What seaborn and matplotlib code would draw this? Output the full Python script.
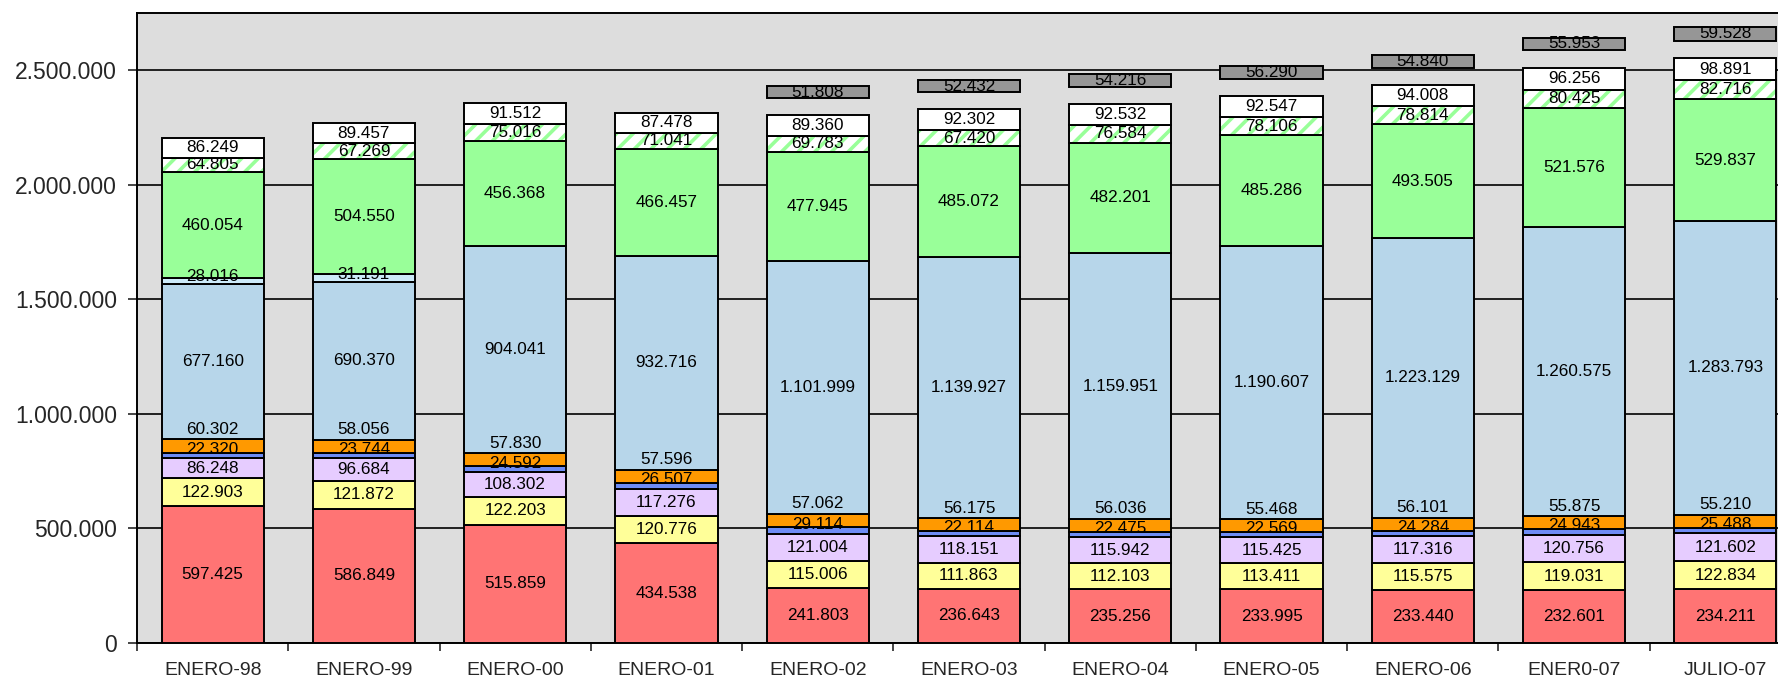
import numpy as np
import pandas as pd
import matplotlib
matplotlib.use('Agg')
import matplotlib.pyplot as plt
import seaborn as sns

# Datos
categorias = ['ENERO-98', 'ENERO-99', 'ENERO-00', 'ENERO-01', 'ENERO-02', 'ENERO-03',
              'ENERO-04', 'ENERO-05', 'ENERO-06', 'ENER0-07', 'JULIO-07']

rojo = [597425, 586849, 515859, 434538, 241803, 236643, 235256, 233995, 233440, 232601, 234211]
amarillo = [122903, 121872, 122203, 120776, 115006, 111863, 112103, 113411, 115575, 119031, 122834]
lila = [86248, 96684, 108302, 117276, 121004, 118151, 115942, 115425, 117316, 120756, 121602]
azul = [22320, 23744, 24592, 26507, 29114, 22114, 22475, 22569, 24284, 24943, 25488]
naranja = [60302, 58056, 57830, 57596, 57062, 56175, 56036, 55468, 56101, 55875, 55210]
celeste = [677160, 690370, 904041, 932716, 1101999, 1139927, 1159951, 1190607, 1223129, 1260575, 1283793]
palido = [28016, 31191, 0, 0, 0, 0, 0, 0, 0, 0, 0]
verde = [460054, 504550, 456368, 466457, 477945, 485072, 482201, 485286, 493505, 521576, 529837]
rayado = [64805, 67269, 75016, 71041, 69783, 67420, 76584, 78106, 78814, 80425, 82716]
blanco = [86249, 89457, 91512, 87478, 89360, 92302, 92532, 92547, 94008, 96256, 98891]
hueco = [0, 0, 0, 0, 75000, 75000, 75000, 75000, 75000, 75000, 75000]
gris = [0, 0, 0, 0, 51808, 52432, 54216, 56290, 54840, 55953, 59528]

sns.set_style('white')
plt.rcParams['font.family'] = ['Liberation Sans', 'DejaVu Sans']
plt.rcParams['hatch.linewidth'] = 2.6

ANCHO = 0.675
LW = 1.4

fig = plt.figure(figsize=(17.78, 6.83), dpi=100)
ax = fig.add_axes([137 / 1778, 40 / 683, 1664 / 1778, 630 / 683])
ax.set_facecolor('#DDDDDD')


def fmt(v):
    return f'{v:,}'.replace(',', '.')


def barras(valores, base, color, **kws):
    df = pd.DataFrame({'cat': categorias, 'v': valores, 'b': base})
    df = df[df['v'] > 0]
    sns.barplot(data=df, x='cat', y='v', order=categorias, bottom=df['b'].values,
                color=color, saturation=1, width=ANCHO, errorbar=None, ax=ax,
                zorder=3, **kws)


# (valores, color, desplazamiento de la etiqueta, referencia)
capas = [
    (rojo, '#FF7474', 0, 'centro'),
    (amarillo, '#FFFF99', 0, 'centro'),
    (lila, '#E6CCFF', 0, 'centro'),
    (azul, '#6E8CF5', 6, 'centro'),
    (naranja, '#FF9900', 10, 'arriba'),
    (celeste, '#B7D6EA', 0, 'centro'),
    (palido, '#CDEBFA', 4, 'centro'),
    (verde, '#99FF99', 0, 'centro'),
    (rayado, None, 0, 'centro'),
    (blanco, '#FFFFFF', 0, 'centro'),
    (hueco, 'invisible', 0, None),
    (gris, '#969696', 0, 'centro'),
]

base = np.zeros(len(categorias))
for valores, color, dy, ref in capas:
    vals = np.array(valores, dtype=float)
    if color == 'invisible':
        base = base + vals
        continue
    if color is None:
        # franja blanca con rayas verdes
        barras(valores, base, '#FFFFFF', edgecolor='#99FF99', linewidth=0, hatch='//')
        barras(valores, base, 'black', fill=False, linewidth=LW)
    else:
        barras(valores, base, color, edgecolor='black', linewidth=LW)
    for i, v in enumerate(vals):
        if v <= 0:
            continue
        y = base[i] + v if ref == 'arriba' else base[i] + v / 2
        ax.annotate(fmt(int(v)), xy=(i, y), xytext=(0, dy), textcoords='offset pixels',
                    ha='center', va='center', fontsize=12.3, color='black', zorder=5)
    base = base + vals

# Ejes
ax.set_xlim(-0.5, len(categorias) - 0.5)
ax.set_ylim(0, 2750000)
yt = np.arange(0, 2500001, 500000)
ax.set_yticks(yt)
ax.set_yticklabels([fmt(int(t)) for t in yt], fontsize=16.5)
ax.yaxis.grid(True, color='black', linewidth=1.2)
ax.set_axisbelow(True)
ax.tick_params(axis='y', direction='out', length=6.5, width=1.2, pad=8, left=True)

ax.set_xticks(np.arange(-0.5, len(categorias), 1.0))
ax.set_xticklabels([])
ax.set_xticks(np.arange(len(categorias)), minor=True)
ax.set_xticklabels(categorias, minor=True, fontsize=14)
ax.tick_params(axis='x', which='major', direction='out', length=6, width=1.2, bottom=True)
ax.tick_params(axis='x', which='minor', length=0, pad=14)
ax.set_xlabel('')
ax.set_ylabel('')

for lado in ['left', 'bottom', 'top']:
    ax.spines[lado].set_color('black')
    ax.spines[lado].set_linewidth(1.4)
ax.spines['right'].set_visible(False)

fig.savefig('out.png', dpi=100, facecolor='white')
